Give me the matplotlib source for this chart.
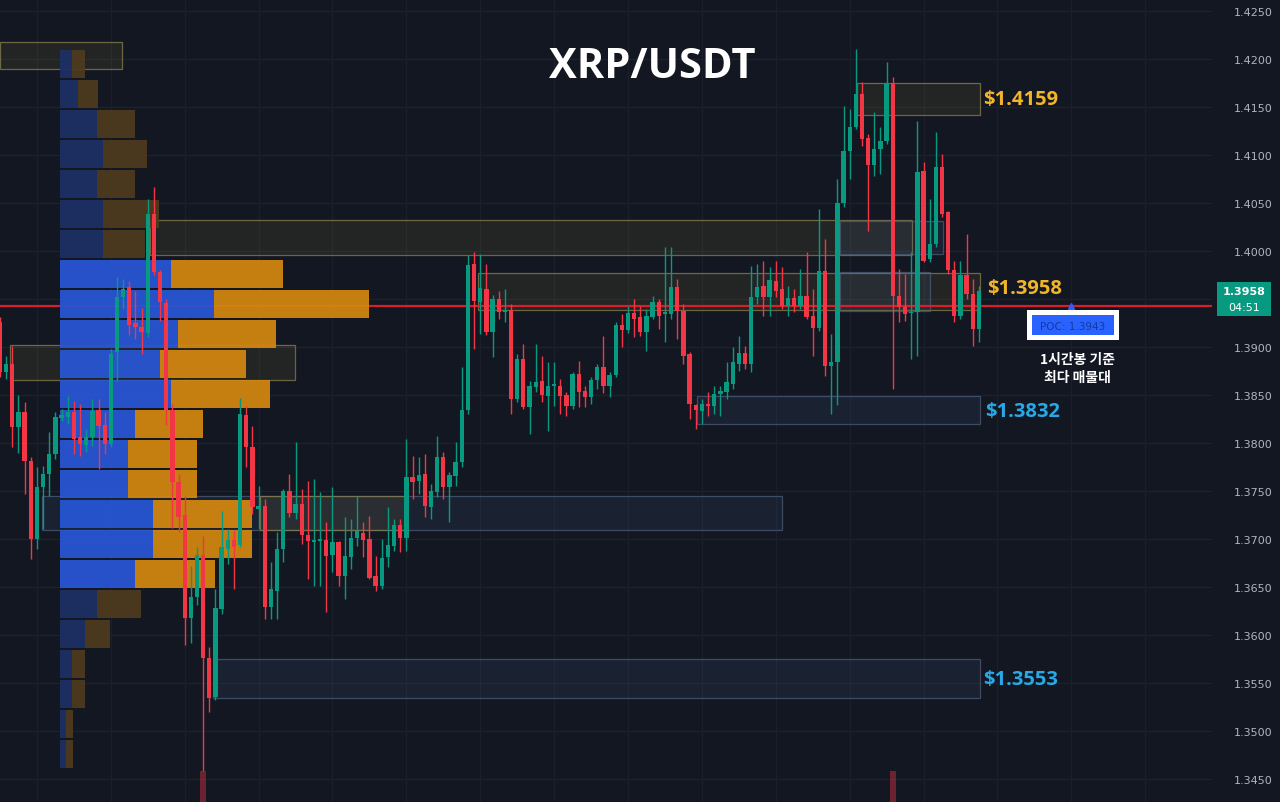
import matplotlib
matplotlib.use("Agg")
import matplotlib.pyplot as plt
from matplotlib.patches import Rectangle

# ---------------- data ----------------
opens = [1.3926, 1.3874, 1.3882, 1.3817, 1.3832, 1.3781, 1.3700, 1.3754, 1.3768, 1.3789,
         1.3826, 1.3827, 1.3832, 1.3806, 1.3798, 1.3806, 1.3834, 1.3819, 1.3799, 1.3895,
         1.3952, 1.3962, 1.3925, 1.3921, 1.3915, 1.4039, 1.3978, 1.3946, 1.3834, 1.3759,
         1.3725, 1.3618, 1.3640, 1.3683, 1.3576, 1.3535, 1.3627, 1.3690, 1.3699, 1.3694,
         1.3829, 1.3796, 1.3731, 1.3734, 1.3629, 1.3646, 1.3690, 1.3750, 1.3727, 1.3736,
         1.3704, 1.3697, 1.3698, 1.3699, 1.3683, 1.3697, 1.3661, 1.3681, 1.3701, 1.3706,
         1.3700, 1.3661, 1.3651, 1.3681, 1.3693, 1.3715, 1.3701, 1.3765, 1.3760, 1.3768,
         1.3733, 1.3749, 1.3785, 1.3754, 1.3766, 1.3780, 1.3834, 1.3986, 1.3947, 1.3960,
         1.3916, 1.3950, 1.3936, 1.3939, 1.3846, 1.3887, 1.3838, 1.3858, 1.3865, 1.3849,
         1.3859, 1.3859, 1.3850, 1.3839, 1.3872, 1.3854, 1.3848, 1.3866, 1.3879, 1.3859,
         1.3871, 1.3923, 1.3918, 1.3935, 1.3931, 1.3916, 1.3931, 1.3947, 1.3934, 1.3934,
         1.3962, 1.3937, 1.3893, 1.3840, 1.3833, 1.3840, 1.3839, 1.3851, 1.3853, 1.3861,
         1.3882, 1.3894, 1.3882, 1.3952, 1.3964, 1.3952, 1.3969, 1.3960, 1.3943, 1.3951,
         1.3943, 1.3953, 1.3932, 1.3920, 1.3979, 1.3880, 1.3884, 1.4050, 1.4104, 1.4129,
         1.4164, 1.4118, 1.4090, 1.4106, 1.4115, 1.4175, 1.3953, 1.3942, 1.3935, 1.3936,
         1.4083, 1.3992, 1.4007, 1.4088, 1.4041, 1.3980, 1.3932, 1.3975, 1.3955, 1.3919]
highs = [1.3931, 1.3891, 1.3901, 1.3850, 1.3843, 1.3785, 1.3775, 1.3776, 1.3811, 1.3832,
         1.3835, 1.3849, 1.3844, 1.3841, 1.3815, 1.3846, 1.3846, 1.3832, 1.3898, 1.3973,
         1.3971, 1.3969, 1.3958, 1.3941, 1.4054, 1.4067, 1.3980, 1.3950, 1.3841, 1.3768,
         1.3745, 1.3672, 1.3692, 1.3703, 1.3588, 1.3648, 1.3729, 1.3710, 1.3709, 1.3847,
         1.3839, 1.3818, 1.3755, 1.3742, 1.3676, 1.3707, 1.3752, 1.3768, 1.3801, 1.3752,
         1.3760, 1.3762, 1.3749, 1.3718, 1.3754, 1.3698, 1.3723, 1.3721, 1.3745, 1.3718,
         1.3724, 1.3682, 1.3700, 1.3733, 1.3721, 1.3721, 1.3804, 1.3786, 1.3785, 1.3789,
         1.3757, 1.3807, 1.3791, 1.3770, 1.3801, 1.3879, 1.3996, 1.3999, 1.3997, 1.3986,
         1.3954, 1.3958, 1.3960, 1.3945, 1.3893, 1.3903, 1.3865, 1.3903, 1.3891, 1.3884,
         1.3884, 1.3867, 1.3853, 1.3874, 1.3885, 1.3859, 1.3869, 1.3882, 1.3911, 1.3874,
         1.3926, 1.3934, 1.3943, 1.3950, 1.3943, 1.3940, 1.3953, 1.3950, 1.4004, 1.4004,
         1.3971, 1.3945, 1.3895, 1.3841, 1.3846, 1.3853, 1.3859, 1.3859, 1.3884, 1.3900,
         1.3911, 1.3901, 1.3984, 1.3986, 1.3990, 1.3983, 1.3990, 1.3983, 1.3964, 1.3960,
         1.3981, 1.3999, 1.3960, 1.4044, 1.4012, 1.3914, 1.4075, 1.4151, 1.4148, 1.4210,
         1.4176, 1.4122, 1.4145, 1.4129, 1.4197, 1.4181, 1.3981, 1.3976, 1.3999, 1.4135,
         1.4093, 1.4054, 1.4124, 1.4101, 1.4042, 1.3990, 1.3990, 1.4018, 1.3971, 1.3964]
lows = [1.3869, 1.3867, 1.3796, 1.3790, 1.3747, 1.3679, 1.3690, 1.3710, 1.3745, 1.3783,
        1.3823, 1.3820, 1.3789, 1.3786, 1.3791, 1.3797, 1.3773, 1.3789, 1.3796, 1.3865,
        1.3940, 1.3912, 1.3908, 1.3893, 1.3910, 1.3975, 1.3927, 1.3819, 1.3711, 1.3707,
        1.3590, 1.3592, 1.3631, 1.3458, 1.3520, 1.3532, 1.3622, 1.3674, 1.3648, 1.3692,
        1.3775, 1.3726, 1.3710, 1.3617, 1.3617, 1.3617, 1.3676, 1.3723, 1.3721, 1.3695,
        1.3658, 1.3651, 1.3651, 1.3624, 1.3666, 1.3651, 1.3637, 1.3669, 1.3693, 1.3681,
        1.3658, 1.3646, 1.3648, 1.3671, 1.3687, 1.3686, 1.3687, 1.3742, 1.3747, 1.3723,
        1.3721, 1.3744, 1.3742, 1.3718, 1.3755, 1.3775, 1.3830, 1.3898, 1.3914, 1.3912,
        1.3890, 1.3929, 1.3926, 1.3830, 1.3843, 1.3835, 1.3809, 1.3853, 1.3843, 1.3812,
        1.3839, 1.3830, 1.3828, 1.3835, 1.3838, 1.3838, 1.3841, 1.3856, 1.3852, 1.3848,
        1.3869, 1.3900, 1.3915, 1.3910, 1.3911, 1.3896, 1.3929, 1.3919, 1.3905, 1.3929,
        1.3908, 1.3882, 1.3825, 1.3815, 1.3820, 1.3828, 1.3830, 1.3828, 1.3846, 1.3856,
        1.3875, 1.3877, 1.3874, 1.3945, 1.3932, 1.3932, 1.3952, 1.3940, 1.3932, 1.3936,
        1.3940, 1.3929, 1.3891, 1.3917, 1.3870, 1.3830, 1.3840, 1.4046, 1.4075, 1.4127,
        1.4109, 1.4021, 1.4078, 1.4080, 1.4111, 1.3856, 1.3926, 1.3927, 1.3887, 1.3891,
        1.3989, 1.3989, 1.4004, 1.4035, 1.3976, 1.3926, 1.3929, 1.3950, 1.3901, 1.3905]
closes = [1.3874, 1.3882, 1.3817, 1.3832, 1.3781, 1.3700, 1.3754, 1.3768, 1.3789, 1.3827,
          1.3829, 1.3832, 1.3804, 1.3799, 1.3806, 1.3833, 1.3818, 1.3799, 1.3893, 1.3952,
          1.3960, 1.3923, 1.3921, 1.3916, 1.4039, 1.3978, 1.3947, 1.3834, 1.3759, 1.3723,
          1.3618, 1.3640, 1.3683, 1.3576, 1.3534, 1.3628, 1.3692, 1.3699, 1.3692, 1.3830,
          1.3796, 1.3733, 1.3734, 1.3629, 1.3648, 1.3690, 1.3750, 1.3727, 1.3736, 1.3704,
          1.3698, 1.3699, 1.3700, 1.3682, 1.3697, 1.3661, 1.3682, 1.3701, 1.3708, 1.3699,
          1.3659, 1.3651, 1.3680, 1.3694, 1.3715, 1.3701, 1.3765, 1.3759, 1.3767, 1.3734,
          1.3750, 1.3785, 1.3754, 1.3767, 1.3780, 1.3834, 1.3985, 1.3948, 1.3961, 1.3916,
          1.3950, 1.3936, 1.3939, 1.3846, 1.3887, 1.3838, 1.3859, 1.3864, 1.3850, 1.3859,
          1.3861, 1.3849, 1.3839, 1.3872, 1.3853, 1.3848, 1.3866, 1.3879, 1.3859, 1.3871,
          1.3923, 1.3918, 1.3935, 1.3929, 1.3916, 1.3932, 1.3947, 1.3932, 1.3936, 1.3962,
          1.3937, 1.3891, 1.3841, 1.3834, 1.3841, 1.3839, 1.3851, 1.3854, 1.3864, 1.3884,
          1.3894, 1.3882, 1.3952, 1.3962, 1.3952, 1.3970, 1.3958, 1.3943, 1.3951, 1.3943,
          1.3953, 1.3931, 1.3920, 1.3979, 1.3880, 1.3884, 1.4050, 1.4104, 1.4129, 1.4164,
          1.4117, 1.4090, 1.4106, 1.4115, 1.4175, 1.3953, 1.3942, 1.3934, 1.3936, 1.4082,
          1.3990, 1.4007, 1.4088, 1.4039, 1.3980, 1.3932, 1.3975, 1.3955, 1.3919, 1.3958]

# volume profile (1h), top row first
vp_levels = [1.41948, 1.41635, 1.41323, 1.41010, 1.40698, 1.40385, 1.40073, 1.39760,
             1.39448, 1.39135, 1.38823, 1.38510, 1.38198, 1.37885, 1.37573, 1.37260,
             1.36948, 1.36635, 1.36323, 1.36010, 1.35698, 1.35385, 1.35073, 1.34760]
vp_buy = [12, 18, 37, 43, 37, 43, 43, 111, 154, 118, 100, 111,
          75, 68, 68, 93, 93, 75, 37, 25, 12, 12, 6, 6]
vp_sell = [13, 20, 38, 44, 38, 56, 42, 112, 155, 98, 86, 99,
           68, 69, 69, 99, 99, 80, 44, 25, 13, 13, 7, 7]
value_area = [False] * 7 + [True] * 11 + [False] * 6

# zones: (start candle, end candle, low price, high price, kind)
zones = [
    (0.0, 19.8, 1.41896, 1.42177, "olive"),
    (24.4, 148.1, 1.39958, 1.40323, "olive"),
    (136.4, 153.2, 1.39969, 1.40313, "blue"),
    (77.6, 159.2, 1.39385, 1.39771, "olive"),
    (136.4, 151.0, 1.39375, 1.39781, "blue"),
    (139.2, 159.2, 1.41417, 1.41750, "olive"),
    (1.6, 47.9, 1.38656, 1.39021, "olive"),
    (113.2, 159.2, 1.38198, 1.38490, "blue"),
    (6.8, 127.0, 1.37094, 1.37448, "blue"),
    (42.2, 65.8, 1.37094, 1.37448, "olive"),
    (34.6, 159.2, 1.35344, 1.35750, "blue"),
]
zone_labels = ["$1.4159", "$1.3958", "$1.3832", "$1.3553"]
zone_label_colors = ["#f2b52a", "#f2b52a", "#29a8e6", "#29a8e6"]

poc_price = 1.3943
last_price = 1.3958
countdown = "04:51"
vol_idx = [33, 145]
vol_vals = [58.0, 58.0]

yticks = [1.4250, 1.4200, 1.4150, 1.4100, 1.4050, 1.4000, 1.3950, 1.3900, 1.3850,
          1.3800, 1.3750, 1.3700, 1.3650, 1.3600, 1.3550, 1.3500, 1.3450]
hidden_tick = 1.3950  # covered by the last-price tag

# ---------------- style ----------------
BG = "#131722"
UP = "#089981"
DN = "#f23645"
W, H = 1280, 803
PX = 6.157  # pixels per candle
BOLD_FAM = ["Open Sans", "DejaVu Sans"]

fig = plt.figure(figsize=(12.8, 8.03), dpi=100, facecolor=BG)
ax = fig.add_axes([0, 0, 1212 / W, 1])
ax.set_facecolor(BG)
ax.set_xlim(0, 1212 / PX)
ax.set_ylim(1.42625 - 803 / 9600, 1.42625)
for s in ax.spines.values():
    s.set_visible(False)

# grid
for t in yticks:
    ax.axhline(t, color="#1d2130", lw=0.9, zorder=0)
for xi in range(6, 200, 12):
    ax.axvline(xi, color="#1b1f2c", lw=0.9, zorder=0)

# zones
for x0, x1, lo, hi, kind in zones:
    if kind == "olive":
        fc, ec, a = "#b8a844", "#8a8050", 0.10
    else:
        fc, ec, a = "#4a6a9a", "#4a5c78", 0.13
    ax.add_patch(Rectangle((x0, lo), x1 - x0, hi - lo, facecolor=fc, alpha=a,
                           edgecolor="none", zorder=1))
    ax.add_patch(Rectangle((x0, lo), x1 - x0, hi - lo, facecolor="none",
                           edgecolor=ec, lw=0.9, alpha=0.75, zorder=1))

# POC line
ax.axhline(poc_price, color="#d91e2b", lw=1.6, zorder=2)

# volume profile
vp_left = 60 / PX
vp_scale = 1 / PX
for lvl, b, s, va in zip(vp_levels, vp_buy, vp_sell, value_area):
    cb = "#2856d6" if va else "#1d2f66"
    cs = "#d4870f" if va else "#4e3b1e"
    ax.barh(lvl, b * vp_scale, left=vp_left, height=0.0029, color=cb, alpha=0.93, zorder=3)
    ax.barh(lvl, s * vp_scale, left=vp_left + b * vp_scale, height=0.0029, color=cs,
            alpha=0.93, zorder=3)

# candles
idx = list(range(len(opens)))
cols = [UP if c >= o else DN for o, c in zip(opens, closes)]
ax.vlines(idx, lows, highs, colors=cols, lw=1.0, zorder=4)
bottoms = [min(o, c) for o, c in zip(opens, closes)]
heights = [max(abs(c - o), 0.00012) for o, c in zip(opens, closes)]
ax.bar(idx, heights, bottom=bottoms, width=0.7, color=cols, zorder=5, linewidth=0)

# volume spikes (separate overlay axes)
axv = fig.add_axes(ax.get_position(), sharex=ax)
axv.set_ylim(0, max(vol_vals) * H / 31)
axv.bar(vol_idx, vol_vals, width=0.9, color=DN, alpha=0.4, linewidth=0)
axv.axis("off")
axv.patch.set_visible(False)

# right axis ticks
ax.set_xticks([])
ax.set_yticks(yticks)
ax.set_yticklabels(["" if t == hidden_tick else f"{t:.4f}" for t in yticks])
ax.yaxis.tick_right()
ax.tick_params(axis="y", which="both", left=False, right=False, labelleft=False,
               labelright=True, length=0, pad=16, labelsize=8, labelcolor="#b2b5be")

# POC marker
ax.plot([1071 / PX], [poc_price], marker="^", ms=5, color="#2962ff", clip_on=False, zorder=6)

# texts
def fx(x):
    return x / W

def fy(y):
    return 1 - y / H

fig.text(fx(652), fy(68), "XRP/USDT", color="white", fontsize=30, fontweight="bold",
         family=BOLD_FAM, ha="center", va="center")

label_pos = [(983, 100), (987, 289), (985, 412), (983, 680)]
for (lx, ly), txt, c in zip(label_pos, zone_labels, zone_label_colors):
    fig.text(fx(lx), fy(ly), txt, color=c, fontsize=14.5, fontweight="bold",
             family=BOLD_FAM, ha="left", va="center")

# current price tag
fig.patches.append(Rectangle((fx(1217), fy(317)), 54 / W, 34 / H, transform=fig.transFigure,
                             facecolor=UP, edgecolor="none"))
fig.text(fx(1244), fy(292), f"{last_price:.4f}", color="white", fontsize=8, ha="center",
         va="center", fontweight="bold")
fig.text(fx(1244), fy(308), countdown, color="white", fontsize=8, ha="center", va="center")

# POC box
fig.patches.append(Rectangle((fx(1027), fy(341)), 92 / W, 30 / H, transform=fig.transFigure,
                             facecolor="white", edgecolor="none"))
fig.patches.append(Rectangle((fx(1032), fy(336)), 82 / W, 20 / H, transform=fig.transFigure,
                             facecolor="#2962ff", edgecolor="none"))
fig.text(fx(1073), fy(326.5), f"POC: {poc_price:.4f}", color="#133a9c", fontsize=7.5,
         ha="center", va="center")

fig.text(fx(1077), fy(360), "1시간봉 기준", color="white", fontsize=10, fontweight="bold",
         family=["Noto Sans CJK KR", "DejaVu Sans"], ha="center", va="center")
fig.text(fx(1077), fy(378), "최다 매물대", color="white", fontsize=10, fontweight="bold",
         family=["Noto Sans CJK KR", "DejaVu Sans"], ha="center", va="center")

fig.savefig("out.png", dpi=100, facecolor=BG)
